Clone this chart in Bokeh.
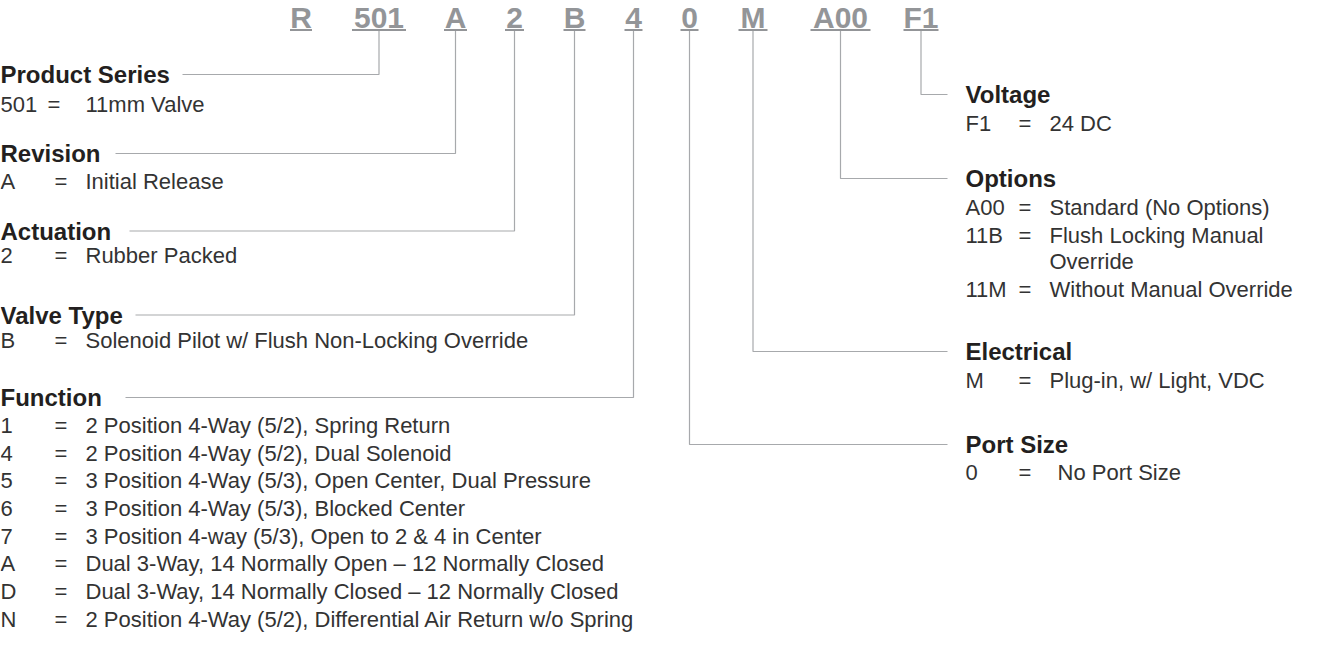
from bokeh.plotting import figure
from bokeh.models import ColumnDataSource, Range1d
from bokeh.embed import file_html
from bokeh.resources import INLINE
from bokeh.core.properties import value

# ---------------- data ----------------
codes = ["R", "501", "A", "2", "B", "4", "0", "M", "A00", "F1"]

left_headings = ["Product Series", "Revision", "Actuation", "Valve Type", "Function"]
left_heading_codes = ["501", "A", "2", "B", "4"]
right_headings = ["Voltage", "Options", "Electrical", "Port Size"]
right_heading_codes = ["F1", "A00", "M", "0"]

series_keys = ["501"]
series_desc = ["11mm Valve"]
revision_keys = ["A"]
revision_desc = ["Initial Release"]
actuation_keys = ["2"]
actuation_desc = ["Rubber Packed"]
valve_keys = ["B"]
valve_desc = ["Solenoid Pilot w/ Flush Non-Locking Override"]
function_keys = ["1", "4", "5", "6", "7", "A", "D", "N"]
function_desc = [
    "2 Position 4-Way (5/2), Spring Return",
    "2 Position 4-Way (5/2), Dual Solenoid",
    "3 Position 4-Way (5/3), Open Center, Dual Pressure",
    "3 Position 4-Way (5/3), Blocked Center",
    "3 Position 4-way (5/3), Open to 2 & 4 in Center",
    "Dual 3-Way, 14 Normally Open \u2013 12 Normally Closed",
    "Dual 3-Way, 14 Normally Closed \u2013 12 Normally Closed",
    "2 Position 4-Way (5/2), Differential Air Return w/o Spring",
]
voltage_keys = ["F1"]
voltage_desc = ["24 DC"]
options_keys = ["A00", "11B", "", "11M"]
options_desc = ["Standard (No Options)", "Flush Locking Manual", "Override", "Without Manual Override"]
electrical_keys = ["M"]
electrical_desc = ["Plug-in, w/ Light, VDC"]
port_keys = ["0"]
port_desc = ["No Port Size"]

# ---------------- layout (pixel space of the page) ----------------
code_cx = [308.5, 386.5, 463, 522, 582, 641, 697, 760.5, 848, 928.5]
code_hw = [11, 27, 11.5, 9.5, 11, 9, 9, 14.5, 30, 17.5]
code_mid_y = 25
underline_y = 37.5
conn_top = 38.5

left_head_y = [82, 161, 238.5, 322.5, 405]
left_line_x0 = [190, 123, 137, 143, 133]
left_rows_y = [[112], [189], [263], [348],
               [433, 461, 488, 516, 544, 571, 599, 627]]
right_head_y = [102, 186, 359, 452]
right_rows_y = [[131], [215, 243, 269, 297], [388], [480]]
right_hook_x = 955

LX_KEY, LX_EQ, LX_DESC = 8, 62, 93
RX_KEY, RX_EQ, RX_DESC = 973, 1026, 1057

CODE_COLOR = "#939598"
LINE_COLOR = "#a7a9ac"
FONT = "Liberation Sans"

p = figure(width=1306, height=634, output_backend="svg", toolbar_location=None,
           x_range=Range1d(8, 1314), y_range=Range1d(642, 8), min_border=0)
p.axis.visible = False
p.grid.visible = False
p.outline_line_color = None
p.background_fill_color = "white"
p.border_fill_color = "white"

# code row
p.text(x=code_cx, y=[code_mid_y] * len(codes), text=codes, text_align="center",
       text_baseline="middle", text_font=value(FONT), text_font_size="30px",
       text_font_style="bold", text_color=CODE_COLOR)
p.segment(x0=[c - h for c, h in zip(code_cx, code_hw)], x1=[c + h for c, h in zip(code_cx, code_hw)],
          y0=[underline_y] * len(codes), y1=[underline_y] * len(codes),
          line_color=CODE_COLOR, line_width=2)

cx_of = dict(zip(codes, code_cx))

# connectors
xs, ys = [], []
for code, hy, x0 in zip(left_heading_codes, left_head_y, left_line_x0):
    cx = cx_of[code]
    xs.append([x0, cx, cx]); ys.append([hy, hy, conn_top])
for code, hy in zip(right_heading_codes, right_head_y):
    cx = cx_of[code]
    xs.append([cx, cx, right_hook_x]); ys.append([conn_top, hy, hy])
p.multi_line(xs=xs, ys=ys, line_color=LINE_COLOR, line_width=1.2)

# headings
p.text(x=[LX_KEY] * len(left_headings), y=left_head_y, text=left_headings,
       text_baseline="middle", text_font=value(FONT), text_font_size="24px",
       text_font_style="bold", text_color="#231f20")
p.text(x=[RX_KEY] * len(right_headings), y=right_head_y, text=right_headings,
       text_baseline="middle", text_font=value(FONT), text_font_size="24px",
       text_font_style="bold", text_color="#231f20")

# entries
groups = [
    (series_keys, series_desc, left_rows_y[0], LX_KEY, 55, LX_DESC),
    (revision_keys, revision_desc, left_rows_y[1], LX_KEY, LX_EQ, LX_DESC),
    (actuation_keys, actuation_desc, left_rows_y[2], LX_KEY, LX_EQ, LX_DESC),
    (valve_keys, valve_desc, left_rows_y[3], LX_KEY, LX_EQ, LX_DESC),
    (function_keys, function_desc, left_rows_y[4], LX_KEY, LX_EQ, LX_DESC),
    (voltage_keys, voltage_desc, right_rows_y[0], RX_KEY, RX_EQ, RX_DESC),
    (options_keys, options_desc, right_rows_y[1], RX_KEY, RX_EQ, RX_DESC),
    (electrical_keys, electrical_desc, right_rows_y[2], RX_KEY, RX_EQ, RX_DESC),
    (port_keys, port_desc, right_rows_y[3], RX_KEY, RX_EQ, RX_DESC + 8),
]
K = dict(x=[], y=[], t=[])
E = dict(x=[], y=[], t=[])
D = dict(x=[], y=[], t=[])
for keys, descs, ys_, kx, ex, dx in groups:
    for k, d, y in zip(keys, descs, ys_):
        if k:
            K["x"].append(kx); K["y"].append(y); K["t"].append(k)
            E["x"].append(ex); E["y"].append(y); E["t"].append("=")
        D["x"].append(dx); D["y"].append(y); D["t"].append(d)

for src in (K, E, D):
    p.text(x="x", y="y", text="t", source=ColumnDataSource(src), text_baseline="middle",
           text_font=value(FONT), text_font_size="22px", text_color="#333333")

open("out.html", "w").write(file_html(p, INLINE))
